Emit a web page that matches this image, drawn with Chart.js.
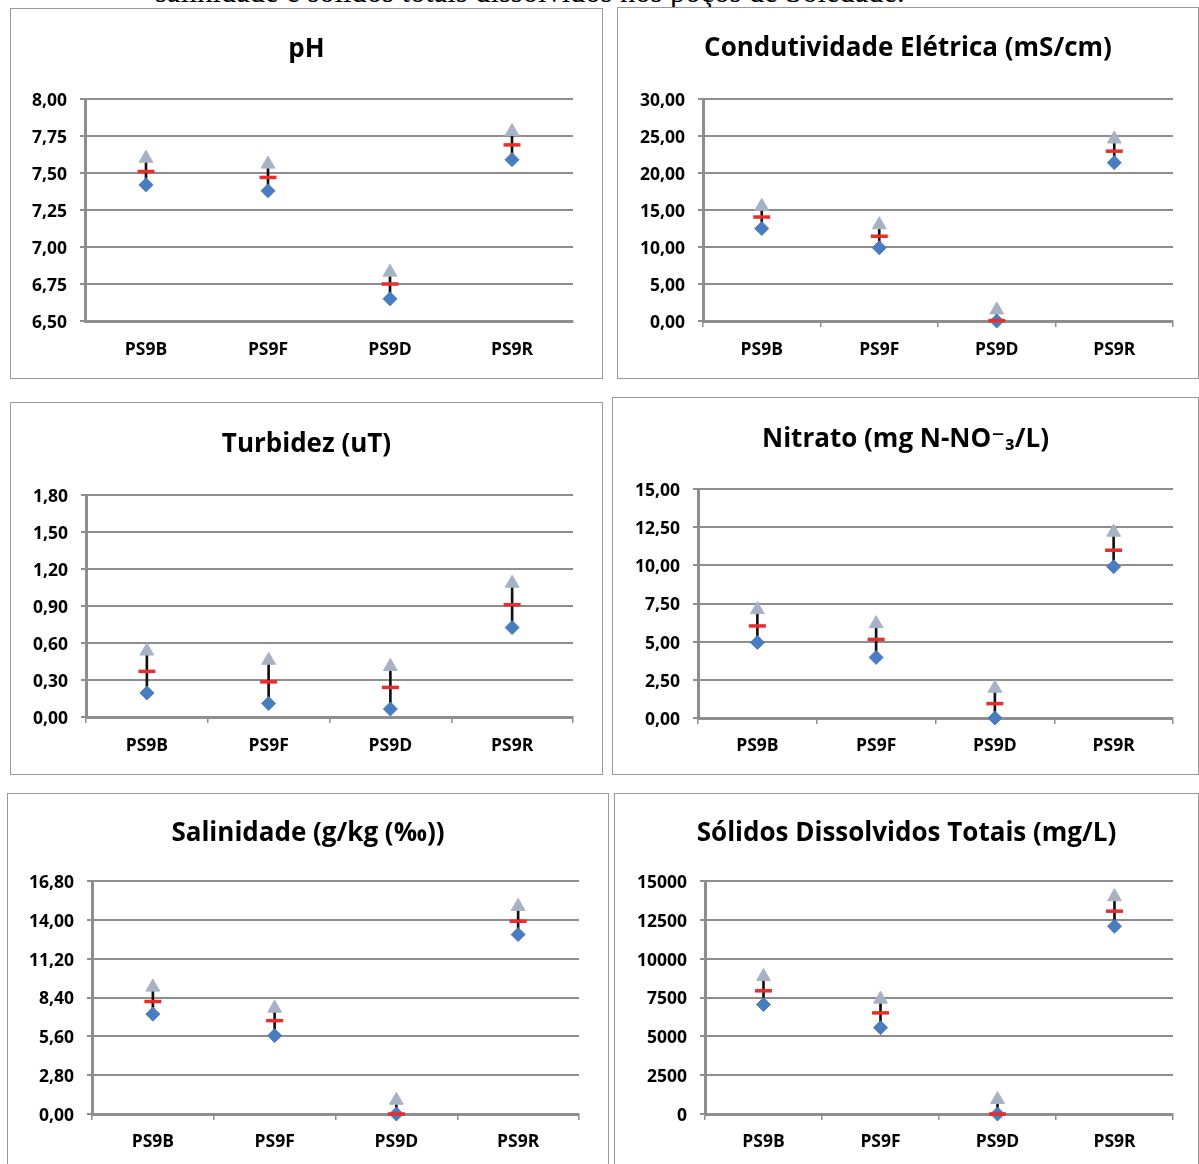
<!DOCTYPE html>
<html><head><meta charset="utf-8">
<script src="https://cdn.jsdelivr.net/npm/chart.js@4.4.0/dist/chart.umd.min.js"></script>
<style>
html,body{margin:0;padding:0;background:#fff;}
body{width:1199px;height:1164px;position:relative;overflow:hidden;}
.frame{position:absolute;border:1px solid #9a9a9a;box-sizing:border-box;background:#fff;}
.frame canvas{position:absolute;left:0;top:0;}
#caption{position:absolute;left:155px;top:-19px;font-family:"Liberation Serif";font-size:26px;line-height:26px;white-space:nowrap;color:#000;}
</style></head><body>
<div id="caption">salinidade e sólidos totais dissolvidos nos poços de Soledade.</div>
<script>
// ---- data ----
const categories = ['PS9B', 'PS9F', 'PS9D', 'PS9R'];

const phMax  = [7.60, 7.56, 6.83, 7.78];
const phMean = [7.51, 7.47, 6.75, 7.69];
const phMin  = [7.42, 7.38, 6.65, 7.59];
const phTicks = [6.50, 6.75, 7.00, 7.25, 7.50, 7.75, 8.00];

const ceMax  = [15.5, 13.0, 1.5, 24.6];
const ceMean = [14.05, 11.45, 0.05, 22.95];
const ceMin  = [12.5, 9.9, 0.0, 21.4];
const ceTicks = [0, 5, 10, 15, 20, 25, 30];

const turbMax  = [0.535, 0.46, 0.41, 1.085];
const turbMean = [0.37, 0.285, 0.24, 0.91];
const turbMin  = [0.195, 0.11, 0.065, 0.725];
const turbTicks = [0, 0.30, 0.60, 0.90, 1.20, 1.50, 1.80];

const nitMax  = [7.1, 6.18, 1.95, 12.17];
const nitMean = [6.03, 5.15, 0.94, 10.99];
const nitMin  = [4.95, 3.97, 0.0, 9.91];
const nitTicks = [0, 2.5, 5, 7.5, 10, 12.5, 15];

const salMax  = [9.15, 7.63, 0.99, 14.97];
const salMean = [8.11, 6.73, 0.0, 13.9];
const salMin  = [7.2, 5.65, 0.0, 12.94];
const salTicks = [0, 2.8, 5.6, 8.4, 11.2, 14.0, 16.8];

const sdtMax  = [8856, 7395, 930, 13988];
const sdtMean = [7931, 6509, 0, 13058];
const sdtMin  = [7046, 5559, 0, 12088];
const sdtTicks = [0, 2500, 5000, 7500, 10000, 12500, 15000];

// ---- layout (page pixels) ----
const panels = [
  {title:'pH', max:phMax, mean:phMean, min:phMin, ticks:phTicks, dec:2,
   box:[10,8,602,378], plot:[85,99,573,321], titleY:50, labelY:350, xTicks:false},
  {title:'Condutividade Elétrica (mS/cm)', max:ceMax, mean:ceMean, min:ceMin, ticks:ceTicks, dec:2,
   box:[617,7,1198,378], plot:[703,99,1173,321], titleY:49, labelY:350, xTicks:true},
  {title:'Turbidez (uT)', max:turbMax, mean:turbMean, min:turbMin, ticks:turbTicks, dec:2,
   box:[10,402,602,774], plot:[86,495,573,717], titleY:445, labelY:746, xTicks:true},
  {title:'Nitrato (mg N-NO⁻₃/L)', max:nitMax, mean:nitMean, min:nitMin, ticks:nitTicks, dec:2,
   box:[612,397,1198,774], plot:[698,489,1173,718], titleY:440, labelY:746, xTicks:true},
  {title:'Salinidade (g/kg (‰))', max:salMax, mean:salMean, min:salMin, ticks:salTicks, dec:2,
   box:[7,793,608,1175], plot:[92,881,579,1114], titleY:834, labelY:1142, xTicks:true},
  {title:'Sólidos Dissolvidos Totais (mg/L)', max:sdtMax, mean:sdtMean, min:sdtMin, ticks:sdtTicks, dec:0,
   box:[614,793,1198,1175], plot:[705,881,1173,1114], titleY:834, labelY:1142, xTicks:true}
];

const FONT = '"Open Sans", "DejaVu Sans", sans-serif';
const TICK_SIZE = 17.5, TITLE_SIZE = 26, TICK_LEN = 6;
const GRID = '#8e8e8e';

function build(p) {
  const [L, T, R, B] = p.box;
  const frame = document.createElement('div');
  frame.className = 'frame';
  frame.style.left = L + 'px'; frame.style.top = T + 'px';
  frame.style.width = (R - L + 1) + 'px'; frame.style.height = (B - T + 1) + 'px';
  const cw = R - L - 1, ch = B - T - 1, cx = L + 1, cy = T + 1;
  const canvas = document.createElement('canvas');
  canvas.width = cw; canvas.height = ch;
  canvas.style.width = cw + 'px'; canvas.style.height = ch + 'px';
  frame.appendChild(canvas);
  document.body.appendChild(frame);

  const [pl, pt, pr, pb] = p.plot;
  const rightW = (cx + cw) - pr;      // empty right-hand axis keeps the title centred on the frame
  const yW = pl - cx;
  const titleH = TITLE_SIZE * 1.2;
  const tTop = (p.titleY - cy) - titleH / 2;
  const tBot = (pt - cy) - titleH - tTop;
  const xH = (cy + ch) - pb;
  const xPad = (p.labelY - pb) - TICK_LEN - TICK_SIZE * 1.2 / 2;

  new Chart(canvas, {
    type: 'bar',
    data: {
      labels: categories,
      datasets: [
        {type:'line', label:'Máximo', data:p.max, showLine:false, pointStyle:'triangle',
         pointRadius:8, pointHoverRadius:8, backgroundColor:'#A7B3C5', borderColor:'#A7B3C5', borderWidth:1, order:1, clip:false},
        {type:'line', label:'Média', data:p.mean, showLine:false, pointStyle:'line',
         pointRadius:8.5, pointHoverRadius:8.5, borderColor:'#EC2B2B', backgroundColor:'#EC2B2B', borderWidth:3.5, order:0, clip:false},
        {type:'line', label:'Mínimo', data:p.min, showLine:false, pointStyle:'rectRot',
         pointRadius:7, pointHoverRadius:7, backgroundColor:'#4A7DC0', borderColor:'#4A7DC0', borderWidth:1, order:2, clip:false},
        {type:'bar', label:'Amplitude', data:p.min.map((v, i) => [v, p.max[i]]),
         backgroundColor:'#111', borderWidth:0, barThickness:2, order:5}
      ]
    },
    options: {
      responsive:false, animation:false, devicePixelRatio:1,
      layout:{padding:0},
      plugins:{
        legend:{display:false}, tooltip:{enabled:false},
        title:{display:true, text:p.title, color:'#000',
          font:{family:FONT, size:TITLE_SIZE, weight:'bold', lineHeight:1.2},
          padding:{top:tTop, bottom:tBot}}
      },
      scales:{
        x:{
          type:'category', offset:true,
          grid:{display:true, drawOnChartArea:false, drawTicks:true, tickLength:TICK_LEN,
                color:p.xTicks ? GRID : 'rgba(0,0,0,0)', lineWidth:1.5, offset:true},
          border:{display:true, color:GRID, width:3},
          ticks:{color:'#000', font:{family:FONT, size:TICK_SIZE, weight:'bold', lineHeight:1.2},
                 padding:xPad, maxRotation:0, autoSkip:false},
          afterFit:(s) => { s.height = xH; }
        },
        y:{
          type:'linear', position:'left', min:p.ticks[0], max:p.ticks[p.ticks.length - 1],
          afterBuildTicks:(s) => { s.ticks = p.ticks.map(v => ({value:v})); },
          grid:{color:GRID, lineWidth:2, drawTicks:true, tickLength:5},
          border:{display:true, color:GRID, width:3},
          ticks:{color:'#000', font:{family:FONT, size:TICK_SIZE, weight:'bold'}, padding:13, labelOffset:2,
                 callback:(v) => Number(v).toFixed(p.dec).replace('.', ',')},
          afterFit:(s) => { s.width = yW; }
        },
        yRight:{
          type:'linear', position:'right', min:0, max:1, display:true,
          grid:{display:false, drawOnChartArea:false, drawTicks:false},
          border:{display:false},
          ticks:{display:false},
          afterFit:(s) => { s.width = rightW; }
        }
      }
    }
  });
}

panels.forEach(build);

// fit caption width to the reference span
(function(){
  const c = document.getElementById('caption');
  const w = c.getBoundingClientRect().width;
  const fs = 26 * 750 / w;
  c.style.fontSize = fs + 'px';
  c.style.lineHeight = fs + 'px';
  c.style.top = (2.5 - 0.8375 * fs) + 'px';
})();
</script>
</body></html>
